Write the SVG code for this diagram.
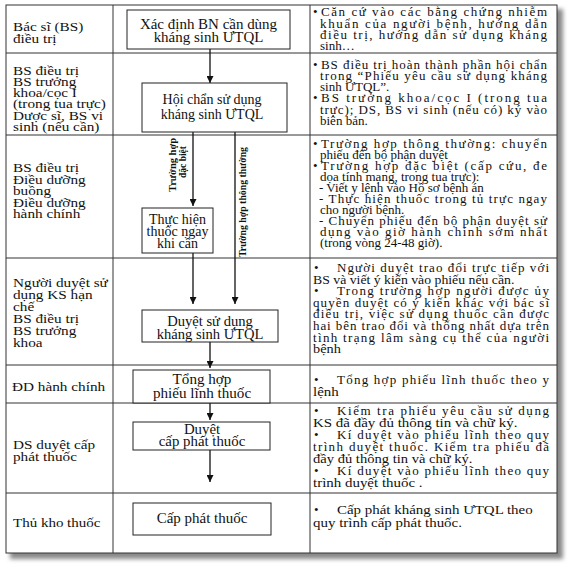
<svg xmlns="http://www.w3.org/2000/svg" width="568" height="570" viewBox="0 0 568 570">
<defs>
<style>
text{font-family:"Liberation Serif","Times New Roman",serif;fill:#111;}
.t{font-size:13px;}
.r{font-size:12.5px;}
.b{font-size:14px;text-anchor:middle;}
.v{font-size:11px;font-weight:bold;text-anchor:middle;}
.grid{stroke:#333;stroke-width:1;fill:none;}
.box{fill:#fff;stroke:#222;stroke-width:1;}
.c{stroke:#111;stroke-width:1.3;fill:none;}
</style>
<marker id="ah" viewBox="0 0 8 8" refX="8" refY="4" markerWidth="7" markerHeight="7" markerUnits="userSpaceOnUse" orient="auto">
<path d="M0,0 L8,4 L0,8 z" fill="#111"/>
</marker>
<filter id="sh" x="-5%" y="-5%" width="110%" height="110%">
<feGaussianBlur stdDeviation="2"/>
</filter>
</defs>
<rect x="0" y="0" width="568" height="570" fill="#fff"/>
<rect x="10" y="9" width="553" height="550" fill="#8a8a8a" filter="url(#sh)"/>
<rect x="6" y="5" width="551" height="548" fill="#fff"/>
<g id="table">
<rect class="grid" x="6" y="5" width="551" height="548" stroke-width="2"/>
<line class="grid" x1="113" y1="5" x2="113" y2="553"/>
<line class="grid" x1="310" y1="5" x2="310" y2="553"/>
<line class="grid" x1="6" y1="53" x2="557" y2="53"/>
<line class="grid" x1="6" y1="135" x2="557" y2="135"/>
<line class="grid" x1="6" y1="258" x2="557" y2="258"/>
<line class="grid" x1="6" y1="365" x2="557" y2="365"/>
<line class="grid" x1="6" y1="403" x2="557" y2="403"/>
<line class="grid" x1="6" y1="493" x2="557" y2="493"/>
</g>
<g id="roles" class="r">
<text transform="translate(13,31) scale(1.22,1)">Bác sĩ (BS)</text>
<text transform="translate(13,43) scale(1.22,1)">điều trị</text>
<text transform="translate(13,75) scale(1.22,1)">BS điều trị</text>
<text transform="translate(13,86) scale(1.22,1)">BS trưởng</text>
<text transform="translate(13,97) scale(1.22,1)">khoa/cọc I</text>
<text transform="translate(13,108) scale(1.22,1)">(trong tua trực)</text>
<text transform="translate(13,119.5) scale(1.22,1)">Dược sĩ, BS vi</text>
<text transform="translate(13,131) scale(1.22,1)">sinh (nếu cần)</text>
<text transform="translate(13,172) scale(1.22,1)">BS điều trị</text>
<text transform="translate(13,184) scale(1.22,1)">Điều dưỡng</text>
<text transform="translate(13,195) scale(1.22,1)">buồng</text>
<text transform="translate(13,207) scale(1.22,1)">Điều dưỡng</text>
<text transform="translate(13,218) scale(1.22,1)">hành chính</text>
<text transform="translate(13,287) scale(1.22,1)">Người duyệt sử</text>
<text transform="translate(13,299) scale(1.22,1)">dụng KS hạn</text>
<text transform="translate(13,311) scale(1.22,1)">chế</text>
<text transform="translate(13,323) scale(1.22,1)">BS điều trị</text>
<text transform="translate(13,335) scale(1.22,1)">BS trưởng</text>
<text transform="translate(13,347) scale(1.22,1)">khoa</text>
<text transform="translate(12,391) scale(1.22,1)">ĐD hành chính</text>
<text transform="translate(13,449) scale(1.22,1)">DS duyệt cấp</text>
<text transform="translate(13,461) scale(1.22,1)">phát thuốc</text>
<text transform="translate(13,527) scale(1.2,1)">Thủ kho thuốc</text>
</g>
<g id="connectors">
<line class="c" x1="210" y1="49" x2="210" y2="83" marker-end="url(#ah)"/>
<line class="c" x1="193" y1="132" x2="193" y2="206" marker-end="url(#ah)"/>
<line class="c" x1="193" y1="253" x2="193" y2="304" marker-end="url(#ah)"/>
<line class="c" x1="235" y1="132" x2="235" y2="304" marker-end="url(#ah)"/>
<line class="c" x1="210" y1="342" x2="210" y2="368" marker-end="url(#ah)"/>
<line class="c" x1="210" y1="403" x2="210" y2="420" marker-end="url(#ah)"/>
<line class="c" x1="210" y1="450" x2="210" y2="482" marker-end="url(#ah)"/>
<text class="v" transform="translate(176,165) rotate(-90)" textLength="54" lengthAdjust="spacingAndGlyphs">Trường hợp</text>
<text class="v" transform="translate(186,162) rotate(-90)" textLength="32" lengthAdjust="spacingAndGlyphs">đặc biệt</text>
<text class="v" transform="translate(246,202) rotate(-90)" textLength="110" lengthAdjust="spacingAndGlyphs">Trường hợp thông thường</text>
</g>
<g id="n1">
<rect class="box" x="127" y="10" width="163" height="39"/>
<text class="b" transform="translate(208.5,29) scale(1.07,1)">Xác định BN cần dùng</text>
<text class="b" transform="translate(208.5,42) scale(1.07,1)">kháng sinh ƯTQL</text>
</g>
<g id="n2">
<rect class="box" x="142" y="83" width="145" height="49"/>
<text class="b" x="212" y="104">Hội chẩn sử dụng</text>
<text class="b" x="212" y="119">kháng sinh ƯTQL</text>
</g>
<g id="n3">
<rect class="box" x="142" y="208" width="71" height="45"/>
<text class="b" x="177.5" y="224">Thực hiện</text>
<text class="b" x="177.5" y="236">thuốc ngay</text>
<text class="b" x="177.5" y="248">khi cần</text>
</g>
<g id="n4">
<rect class="box" x="142" y="310" width="136" height="32"/>
<text class="b" transform="translate(210,326) scale(1.04,1)">Duyệt sử dụng</text>
<text class="b" transform="translate(210,338.5) scale(1.04,1)">kháng sinh ƯTQL</text>
</g>
<g id="n5">
<rect class="box" x="133" y="370" width="137" height="33"/>
<text class="b" transform="translate(202,384) scale(1.08,1)">Tổng hợp</text>
<text class="b" transform="translate(202,398) scale(1.08,1)">phiếu lĩnh thuốc</text>
</g>
<g id="n6">
<rect class="box" x="133" y="422" width="137" height="28"/>
<text class="b" transform="translate(202,434) scale(1.06,1)">Duyệt</text>
<text class="b" transform="translate(202,446) scale(1.06,1)">cấp phát thuốc</text>
</g>
<g id="n7">
<rect class="box" x="133" y="503" width="138" height="32"/>
<text class="b" transform="translate(202,523) scale(1.07,1)">Cấp phát thuốc</text>
</g>
<g id="notes" class="t">
<text x="313" y="16">•</text>
<text x="321" y="16" textLength="226" lengthAdjust="spacing">Căn cứ vào các bằng chứng  nhiễm</text>
<text x="320" y="27.5" textLength="227" lengthAdjust="spacing">khuẩn của người bệnh, hướng dẫn</text>
<text x="320" y="39" textLength="227" lengthAdjust="spacing">điều trị, hướng dẫn sử dụng kháng</text>
<text x="320" y="50">sinh…</text>

<text x="313" y="69">•</text>
<text x="321" y="69" textLength="226" lengthAdjust="spacing">BS điều trị hoàn thành phần hội chẩn</text>
<text x="320" y="80" textLength="227" lengthAdjust="spacing">trong “Phiếu yêu cầu sử dụng kháng</text>
<text x="320" y="91">sinh ƯTQL”.</text>
<text x="313" y="102">•</text>
<text x="321" y="102" textLength="226" lengthAdjust="spacing">BS trưởng khoa/cọc I (trong tua</text>
<text x="320" y="113.5" textLength="227" lengthAdjust="spacing">trực); DS, BS vi sinh (nếu có) ký vào</text>
<text x="320" y="125">biên bản.</text>

<text x="313" y="148">•</text>
<text x="321" y="148" textLength="226" lengthAdjust="spacing">Trường hợp thông thường: chuyển</text>
<text x="320" y="159">phiếu đến bộ phận duyệt</text>
<text x="313" y="170">•</text>
<text x="321" y="170" textLength="226" lengthAdjust="spacing">Trường hợp đặc biệt (cấp cứu, đe</text>
<text x="320" y="181">dọa tính mạng, trong tua trực):</text>
<text x="319" y="192">- Viết y lệnh vào Hồ sơ  bệnh án</text>
<text x="319" y="203" textLength="228" lengthAdjust="spacing">- Thực hiện thuốc trong tủ trực ngay</text>
<text x="320" y="214">cho người bệnh.</text>
<text x="319" y="225" textLength="228" lengthAdjust="spacing">- Chuyển phiếu đến bộ phận duyệt sử</text>
<text x="320" y="236" textLength="227" lengthAdjust="spacing">dụng vào giờ hành chính sớm nhất</text>
<text x="320" y="247">(trong vòng 24-48 giờ).</text>

<text x="314" y="272">•</text>
<text x="337" y="272" textLength="212" lengthAdjust="spacing">Người duyệt trao đổi trực tiếp với</text>
<text transform="translate(313,283.6) scale(1.06,1)">BS và viết ý kiến vào phiếu nếu cần.</text>
<text x="314" y="295.2">•</text>
<text x="337" y="295.2" textLength="212" lengthAdjust="spacing">Trong trường hợp người được ủy</text>
<text x="313" y="306.8" textLength="236" lengthAdjust="spacing">quyền duyệt có ý kiến khác với bác sĩ</text>
<text x="313" y="318.4" textLength="236" lengthAdjust="spacing">điều trị, việc sử dụng thuốc cần được</text>
<text x="313" y="330" textLength="236" lengthAdjust="spacing">hai bên trao đổi và thống nhất dựa trên</text>
<text x="313" y="341.6" textLength="236" lengthAdjust="spacing">tình trạng lâm sàng cụ thể của người</text>
<text transform="translate(313,353.2) scale(1.1,1)">bệnh</text>

<text x="314" y="384">•</text>
<text x="337" y="384" textLength="212" lengthAdjust="spacing">Tổng hợp phiếu lĩnh thuốc theo y</text>
<text transform="translate(313,396) scale(1.15,1)">lệnh</text>

<text x="314" y="415">•</text>
<text x="337" y="415" textLength="212" lengthAdjust="spacing">Kiểm tra phiếu yêu cầu sử dụng</text>
<text transform="translate(313,427) scale(1.15,1)">KS đã đầy đủ thông tin và chữ ký.</text>
<text x="314" y="439">•</text>
<text x="337" y="439" textLength="212" lengthAdjust="spacing">Kí duyệt vào phiếu lĩnh theo quy</text>
<text x="313" y="451" textLength="236" lengthAdjust="spacing">trình duyệt thuốc. Kiểm tra phiếu đã</text>
<text transform="translate(313,463) scale(1.12,1)">đầy đủ thông tin và chữ ký.</text>
<text x="314" y="475">•</text>
<text x="337" y="475" textLength="212" lengthAdjust="spacing">Kí duyệt vào phiếu lĩnh theo quy</text>
<text transform="translate(313,487) scale(1.15,1)">trình duyệt thuốc .</text>

<text x="314" y="514">•</text>
<text transform="translate(337,514) scale(1.15,1)">Cấp phát kháng sinh ƯTQL theo</text>
<text transform="translate(313,527) scale(1.15,1)">quy trình cấp phát thuốc.</text>
</g>
</svg>
